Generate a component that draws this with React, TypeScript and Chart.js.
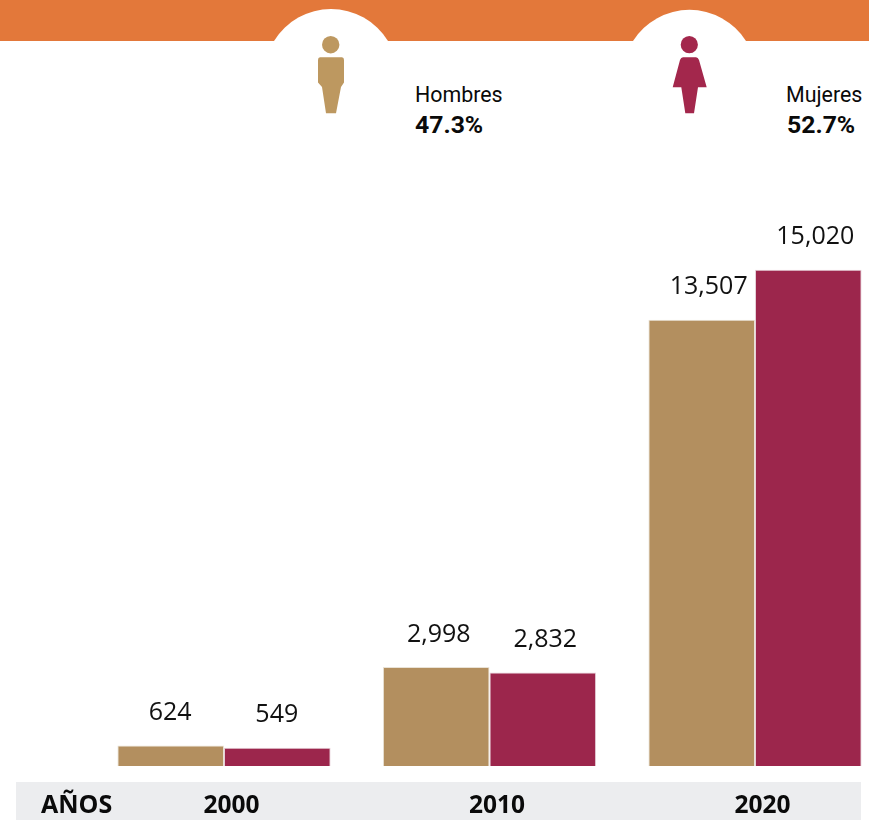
import React, { useEffect, useRef } from "react";
import { Chart, registerables } from "chart.js";

Chart.register(...registerables);

const years = ["2000", "2010", "2020"];
const hombres = [624, 2998, 13507];
const mujeres = [549, 2832, 15020];
const axisTitle = "AÑOS";
const shareMen = "47.3%";
const shareWomen = "52.7%";
const TAN = "#B38F5F";
const CRIMSON = "#9C264C";
const labelShift = [-0.5, 2.5, 7];

const labelFont = "25px 'Open Sans'";
const tickFont = { family: "'Open Sans'", size: 24.5, weight: "bold" as const };

const barLabels = {
  id: "barLabels",
  afterDatasetsDraw(chart: any) {
    const { ctx } = chart;
    ctx.save();
    ctx.font = labelFont;
    ctx.fillStyle = "#111";
    ctx.textAlign = "center";
    ctx.textBaseline = "middle";
    chart.data.datasets.forEach((ds: any, d: number) => {
      chart.getDatasetMeta(d).data.forEach((bar: any, i: number) => {
        ctx.fillText(ds.data[i].toLocaleString("en-US"), bar.x + labelShift[i], bar.y - 32.5);
      });
    });
    ctx.font = "bold 25px 'Open Sans'";
    ctx.fillStyle = "#0a0a0a";
    ctx.textAlign = "left";
    ctx.fillText(axisTitle, 41, 805.5);
    ctx.restore();
  },
};

const abs = (o: React.CSSProperties): React.CSSProperties => ({ position: "absolute", ...o });
const textStyle = (left: number, top: number, size: number, weight: number): React.CSSProperties =>
  abs({ left, top, fontFamily: "Roboto", fontSize: size, fontWeight: weight, lineHeight: "28px", color: "#0a0a0a", whiteSpace: "nowrap" });

export default function App() {
  const ref = useRef<HTMLCanvasElement>(null);
  useEffect(() => {
    document.body.style.margin = "0";
    const chart = new Chart(ref.current!, {
      type: "bar",
      plugins: [barLabels],
      data: {
        labels: years,
        datasets: [
          { label: "Hombres", data: hombres, backgroundColor: TAN, borderColor: "#e9e2d6", borderWidth: 1 },
          { label: "Mujeres", data: mujeres, backgroundColor: CRIMSON, borderColor: "#e5d0d8", borderWidth: 1 },
        ],
      },
      options: {
        responsive: false,
        animation: false,
        layout: { padding: { left: 91.25, right: 0.25, top: 237.5, bottom: 0 } },
        plugins: { legend: { display: false }, title: { display: false }, tooltip: { enabled: false } },
        datasets: { bar: { barPercentage: 1, categoryPercentage: 0.803 } },
        scales: {
          y: { display: false, min: 0, max: 16000 },
          x: {
            afterFit(scale: any) { scale.height = 54; },
            grid: { display: false },
            border: { display: false },
            ticks: { font: tickFont, color: "#0a0a0a", padding: 17, labelOffset: 7.5, maxRotation: 0 },
          },
        },
      },
    } as any);
    return () => chart.destroy();
  }, []);

  return (
    <div style={abs({ left: 0, top: 0, width: 869, height: 820, overflow: "hidden", background: "#fff" })}>
      <div style={abs({ left: 16, top: 782, width: 845, height: 38, background: "#ECEDEF" })} />
      <svg width={869} height={120} style={abs({ left: 0, top: 0 })}>
        <rect x={0} y={0} width={869} height={41} fill="#E3783A" />
        <path d="M274 41 A66.8 66.8 0 0 1 388 41 Z" fill="#fff" />
        <path d="M633 41 A66.8 66.8 0 0 1 746 41 Z" fill="#fff" />
        <circle cx={330.7} cy={44.7} r={8.7} fill="#BD9860" />
        <path d="M320 57.3 H342 Q344 57.3 344 60 V82.5 L341 87 L336 113.3 H326 L322 87 L318 82.5 V60 Q318 57.3 320 57.3 Z" fill="#BD9860" />
        <circle cx={689.3} cy={44.7} r={8.6} fill="#A3274C" />
        <path d="M683 57.3 H696 Q698 57.3 699 60 L706.7 87.3 H698 L694 113.3 H685.3 L681.3 87.3 H672.7 L680 60 Q681 57.3 683 57.3 Z" fill="#A3274C" />
      </svg>
      <div style={textStyle(415, 81, 21.4, 400)}>Hombres</div>
      <div style={textStyle(415, 111, 24.8, 700)}>{shareMen}</div>
      <div style={textStyle(786, 81, 21.4, 400)}>Mujeres</div>
      <div style={textStyle(787, 111, 24.8, 700)}>{shareWomen}</div>
      <canvas ref={ref} width={888} height={820} style={abs({ left: 0, top: 0 })} />
    </div>
  );
}
